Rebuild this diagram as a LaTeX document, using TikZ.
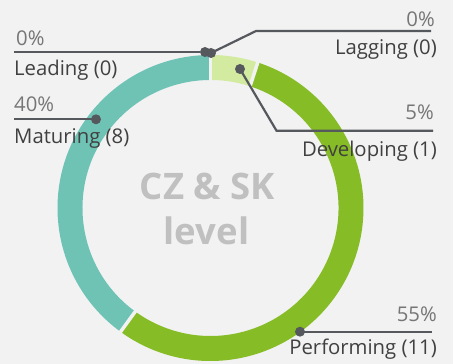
\documentclass[tikz,border=0pt]{standalone}
\usepackage{fontspec}
\setmainfont{Open Sans}
\usetikzlibrary{calc}
\definecolor{bg}{HTML}{F2F2F2}
\definecolor{teal}{HTML}{6FC3B5}
\definecolor{lightg}{HTML}{D3EBA0}
\definecolor{green}{HTML}{86BC25}
\definecolor{lead}{HTML}{55585D}
\definecolor{lbl}{HTML}{404040}
\definecolor{pct}{HTML}{767676}
\definecolor{ctr}{HTML}{C0C0C0}
\tikzset{
  dot/.style={circle,fill=lead,inner sep=0pt,minimum size=10pt},
  leader/.style={draw=lead,line width=2.2pt},
  lbltext/.style={font=\fontsize{20.3}{23}\selectfont,text=lbl,inner sep=0pt},
  pcttext/.style={font=\fontsize{20.3}{23}\selectfont,text=pct,inner sep=0pt},
  ctrtext/.style={font=\bfseries\fontsize{36.5}{40}\selectfont,text=ctr,inner sep=0pt},
  gap/.style={draw=bg,line width=3.5pt}
}
\begin{document}
\begin{tikzpicture}[x=1pt,y=1pt]
\fill[bg] (0,0) rectangle (453,364);
\useasboundingbox (0,0) rectangle (453,364);
\begin{scope}[shift={(210.5,156)}]
  \fill[teal] (90:153) arc[start angle=90,end angle=234,radius=153] -- (234:128) arc[start angle=234,end angle=90,radius=128] -- cycle;
  \fill[lightg] (72:153) arc[start angle=72,end angle=90,radius=153] -- (90:128) arc[start angle=90,end angle=72,radius=128] -- cycle;
  \fill[green] (-126:153) arc[start angle=-126,end angle=72,radius=153] -- (72:128) arc[start angle=72,end angle=-126,radius=128] -- cycle;
  \draw[gap] (90:120) -- (90:160);
  \draw[gap] (72:120) -- (72:160);
  \draw[gap] (234:120) -- (234:160);
\end{scope}
% center text
\node[ctrtext,anchor=base] (t1) at (207.5,164) {CZ \& SK};
\node[ctrtext,anchor=base] (t2) at (206.5,119) {level};
% Leading
\coordinate (leadEnd) at (14,312);
\node[dot] (leadDot) at (205,312) {};
\draw[leader] (leadEnd) -- (leadDot);
\node[pcttext,anchor=base west] (leadP) at (16,318) {0\%};
\node[lbltext,anchor=base west] (leadL) at (14,288) {Leading (0)};
% Lagging
\node[dot] (lagDot) at (211,311) {};
\coordinate (lagBend) at (256,333);
\coordinate (lagEnd) at (431,333);
\draw[leader] (lagDot.center) -- (lagBend) -- (lagEnd);
\node[pcttext,anchor=base east] (lagP) at (435,337) {0\%};
\node[lbltext,anchor=base east] (lagL) at (437,309) {Lagging (0)};
% Developing
\node[dot] (devDot) at (240,295) {};
\coordinate (devBend) at (276.5,233.3);
\coordinate (devEnd) at (433,233.3);
\draw[leader] (devDot.center) -- (devBend) -- (devEnd);
\node[pcttext,anchor=base east] (devP) at (434,244) {5\%};
\node[lbltext,anchor=base east] (devL) at (437,207) {Developing (1)};
% Maturing
\coordinate (matEnd) at (14,244.7);
\node[dot] (matDot) at (96,244.7) {};
\draw[leader] (matEnd) -- (matDot.center);
\node[pcttext,anchor=base west] (matP) at (14,252) {40\%};
\node[lbltext,anchor=base west] (matL) at (14,220) {Maturing (8)};
% Performing
\node[dot] (perDot) at (300,32.3) {};
\coordinate (perEnd) at (432,32.3);
\draw[leader] (perDot.center) -- (perEnd);
\node[pcttext,anchor=base east] (perP) at (437,42) {55\%};
\node[lbltext,anchor=base east] (perL) at (437,9) {Performing (11)};
\end{tikzpicture}
\end{document}
